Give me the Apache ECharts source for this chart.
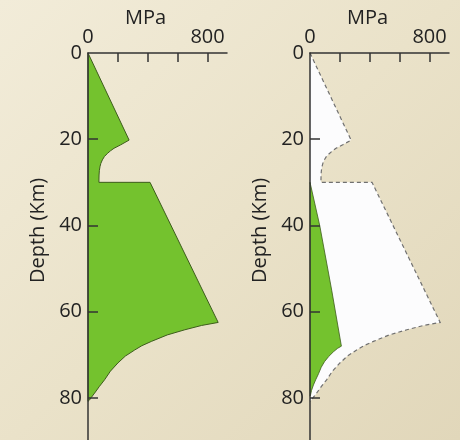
<!DOCTYPE html>
<html>
<head>
<meta charset="utf-8">
<script src="https://cdn.jsdelivr.net/npm/echarts@6/dist/echarts.min.js"></script>
<style>
  html, body { margin: 0; padding: 0; }
  #chart {
    width: 460px; height: 440px;
    background: linear-gradient(135deg, #f2ecd9 0%, #eae2c9 50%, #e1d7ba 100%);
  }
</style>
</head>
<body>
<div id="chart"></div>
<script>
// Lithosphere strength envelope: differential stress (MPa) against depth (km)
const envelopeStress = [0, 275, 219, 174, 150, 130, 110, 96, 86, 80, 76, 74, 73,
                        415, 871, 760, 648, 530, 424, 360, 312, 250, 200, 150, 111, 75, 44, 22, 10, 0];
const envelopeDepth  = [0, 20.2, 21.3, 22.1, 22.7, 23.3, 24.0, 24.8, 25.6, 26.4, 27.3, 28.3, 30,
                        30, 62.5, 63.2, 64.2, 65.4, 66.9, 67.9, 68.9, 70.3, 71.9, 73.8, 75.8, 77.4, 78.9, 79.9, 80.5, 80.8];

// Stress actually supported by the lithosphere (right panel)
const loadStress = [0, 65, 145, 210, 185, 157, 125, 97, 75, 57, 38, 23, 10, 3, 0];
const loadDepth  = [30, 40, 55, 68, 68.5, 69.3, 70.4, 71.6, 72.9, 74.4, 75.8, 77, 78.3, 79.4, 79.6];

// Axis ticks and labels
const stressLabels = [0, 800];
const stressTicks  = [200, 400, 600, 800];
const depthLabels  = [0, 20, 40, 60, 80];
const depthTicks   = [20, 40, 60, 80];

const FONT = 'Open Sans';
const AXIS = '#333333';
const GREEN = '#74c22e';

function pairs(xs, ys) { return xs.map((x, i) => [x, ys[i]]); }
const envelopeData = pairs(envelopeStress, envelopeDepth);
const loadData = pairs(loadStress, loadDepth);

// Draws the whole data list of a series as one shape
function shape(data, kind, style) {
  return function (params, api) {
    if (params.dataIndex !== 0) return null;
    const points = data.map(p => api.coord(p));
    return { type: kind, shape: { points: points }, style: style };
  };
}

function customSeries(idx, data, kind, style, z) {
  return {
    type: 'custom',
    xAxisIndex: idx, yAxisIndex: idx,
    data: data,
    z: z,
    silent: true,
    clip: false,
    renderItem: shape(data, kind, style)
  };
}

function xAxis(idx) {
  return {
    gridIndex: idx, type: 'value', position: 'top',
    min: 0, max: 930,
    name: 'MPa', nameLocation: 'middle', nameGap: 25, nameMoveOverlap: false,
    nameTextStyle: { fontFamily: FONT, fontSize: 20, color: '#222', padding: [0, 24, 0, 0] },
    axisLine: { show: true, onZero: false, lineStyle: { color: AXIS, width: 1.5 } },
    axisTick: { show: true, inside: true, length: 9, customValues: stressTicks, lineStyle: { color: AXIS, width: 1.5 } },
    axisLabel: { customValues: stressLabels, margin: 6, fontFamily: FONT, fontSize: 20, color: '#222' },
    splitLine: { show: false },
    z: 10
  };
}

function yAxis(idx) {
  return {
    gridIndex: idx, type: 'value', inverse: true,
    min: 0, max: 90,
    name: 'Depth (Km)', nameLocation: 'middle', nameGap: 40, nameMoveOverlap: false,
    nameTextStyle: { fontFamily: FONT, fontSize: 20, color: '#222', padding: [0, 0, 0, 33] },
    axisLine: { show: true, onZero: false, lineStyle: { color: AXIS, width: 1.5 } },
    axisTick: { show: true, inside: true, length: 10, customValues: depthTicks, lineStyle: { color: AXIS, width: 1.5 } },
    axisLabel: { customValues: depthLabels, margin: 6, fontFamily: FONT, fontSize: 20, color: '#222' },
    splitLine: { show: false },
    z: 10
  };
}

const chart = echarts.init(document.getElementById('chart'), null, { renderer: 'canvas' });
chart.setOption({
  backgroundColor: 'transparent',
  animation: false,
  grid: [
    { left: 88, top: 53, width: 139, height: 388, outerBoundsMode: 'none' },
    { left: 310, top: 53, width: 139, height: 388, outerBoundsMode: 'none' }
  ],
  xAxis: [xAxis(0), xAxis(1)],
  yAxis: [yAxis(0), yAxis(1)],
  series: [
    // left: full strength envelope
    customSeries(0, envelopeData, 'polygon', { fill: GREEN, stroke: '#3d5c1c', lineWidth: 1 }, 2),
    // right: envelope outline with the supported stress inside it
    customSeries(1, envelopeData, 'polygon', { fill: '#fcfcfd' }, 1),
    customSeries(1, loadData, 'polygon', { fill: GREEN, stroke: '#3d5c1c', lineWidth: 0.8 }, 2),
    customSeries(1, envelopeData, 'polyline', { fill: null, stroke: '#707070', lineWidth: 1.2, lineDash: [4, 3] }, 3)
  ]
});
</script>
</body>
</html>
